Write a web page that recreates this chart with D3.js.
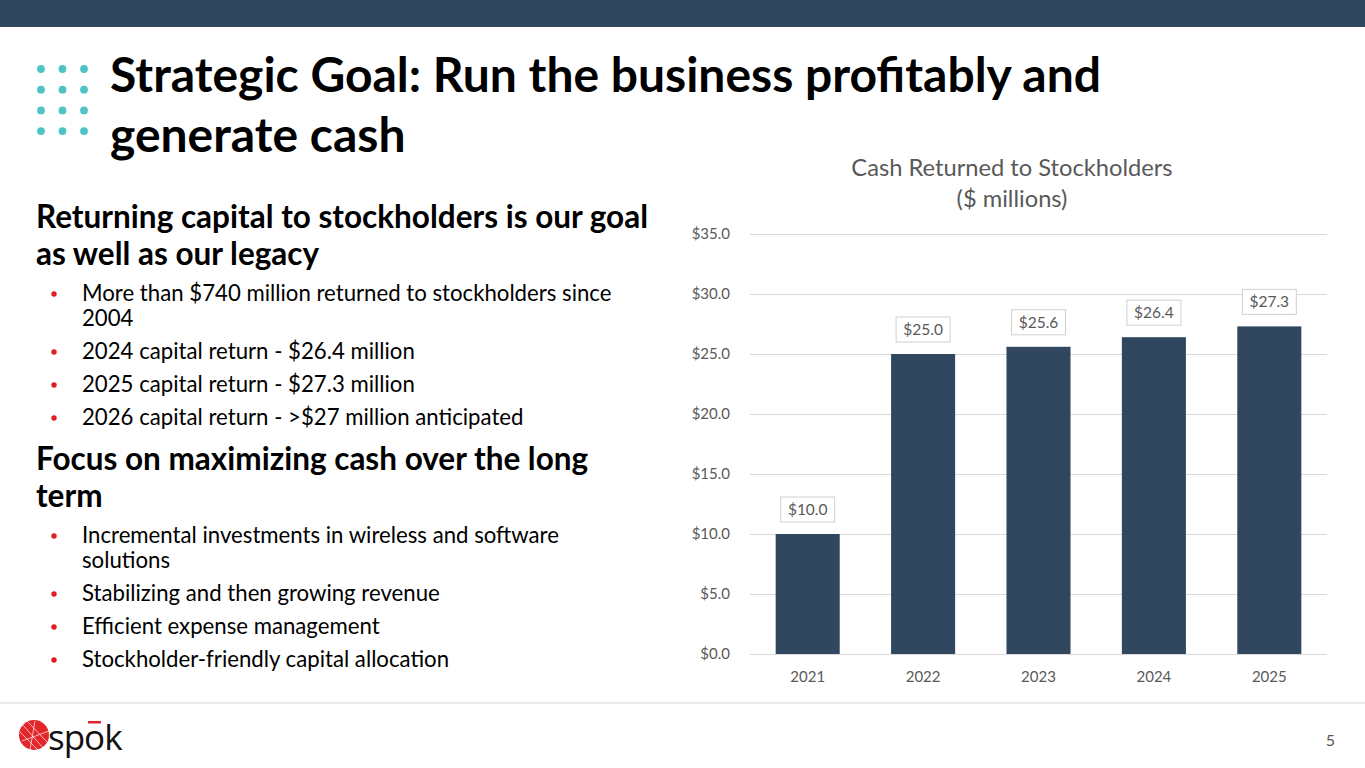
<!DOCTYPE html>
<html lang="en">
<head>
<meta charset="UTF-8">
<title>Cash Returned to Stockholders</title>
<script src="https://d3js.org/d3.v7.min.js"></script>
<style>
  body { margin: 0; background: #fff; }
  svg text { font-family: Lato, "Open Sans", sans-serif; }
</style>
</head>
<body>
<div id="slide"></div>
<script>
// chart data
const years = ["2021", "2022", "2023", "2024", "2025"];
const cashReturned = [10.0, 25.0, 25.6, 26.4, 27.3];
const yTicks = [0, 5, 10, 15, 20, 25, 30, 35];

// slide text
const titleLines = ["Strategic Goal: Run the business profitably and", "generate cash"];
const blocks = [
  { head: ["Returning capital to stockholders is our goal", "as well as our legacy"],
    bullets: [["More than $740 million returned to stockholders since", "2004"],
              ["2024 capital return - $26.4 million"],
              ["2025 capital return - $27.3 million"],
              ["2026 capital return - >$27 million anticipated"]] },
  { head: ["Focus on maximizing cash over the long", "term"],
    bullets: [["Incremental investments in wireless and software", "solutions"],
              ["Stabilizing and then growing revenue"],
              ["Efficient expense management"],
              ["Stockholder-friendly capital allocation"]] }
];

const W = 1365, H = 768;
const navy = "#31475f", grey = "#595959", teal = "#4fc3c6", red = "#e31b23";

const svg = d3.select("#slide").append("svg")
  .attr("width", W).attr("height", H);

// top band
svg.append("rect").attr("x", 0).attr("y", 0).attr("width", W).attr("height", 27).attr("fill", navy);

// dot grid
const dots = d3.cross(d3.range(4), d3.range(3));
svg.append("g").selectAll("circle").data(dots).join("circle")
  .attr("cx", d => 41 + d[1] * 21.5)
  .attr("cy", d => 69 + d[0] * 20.7)
  .attr("r", 3.9)
  .attr("fill", teal);

// title
svg.append("g").selectAll("text").data(titleLines).join("text")
  .attr("x", 110).attr("y", (d, i) => 92 + i * 60)
  .attr("font-size", 48).attr("font-weight", 700).attr("fill", "#000")
  .text(d => d);

// left column
let y = 228;
const left = svg.append("g");
blocks.forEach((b, bi) => {
  if (bi > 0) y += 12;
  b.head.forEach((line, i) => {
    left.append("text").attr("x", 36).attr("y", y)
      .attr("font-size", 31.5).attr("font-weight", 700).attr("fill", "#000").text(line);
    y += 37;
  });
  y -= 1;
  b.bullets.forEach(lines => {
    left.append("circle").attr("cx", 54).attr("cy", y - 7).attr("r", 2.7).attr("fill", red);
    lines.forEach((line, i) => {
      left.append("text").attr("x", 82).attr("y", y)
        .attr("font-size", 22.2).attr("fill", "#000").text(line);
      y += (i < lines.length - 1) ? 25 : 0;
    });
    y += 33;
  });
});

// chart
const plot = { left: 750, right: 1327, top: 234, bottom: 654 };
const x = d3.scaleBand().domain(years).range([plot.left, plot.right]).paddingInner(0.445).paddingOuter(0.2225);
const yScale = d3.scaleLinear().domain([0, 35]).range([plot.bottom, plot.top]);

const chart = svg.append("g");

chart.append("text").attr("x", 1012).attr("y", 176).attr("text-anchor", "middle")
  .attr("font-size", 23.7).attr("fill", grey).text("Cash Returned to Stockholders");
chart.append("text").attr("x", 1012).attr("y", 207).attr("text-anchor", "middle")
  .attr("font-size", 23.7).attr("fill", grey).text("($ millions)");

const yAxis = chart.append("g").attr("transform", `translate(${plot.left},0)`)
  .call(d3.axisLeft(yScale).tickValues(yTicks).tickFormat(d => "$" + d3.format(".1f")(d))
    .tickSize(-(plot.right - plot.left)).tickPadding(20));
yAxis.select(".domain").remove();
yAxis.selectAll(".tick line").attr("stroke", "#d9d9d9").attr("stroke-width", 1);
yAxis.selectAll(".tick text").attr("fill", grey).attr("font-size", 15)
  .style("font-family", "Lato, sans-serif");

const xAxis = chart.append("g").attr("transform", `translate(0,${plot.bottom})`)
  .call(d3.axisBottom(x).tickSize(0).tickPadding(17));
xAxis.select(".domain").remove();
xAxis.selectAll(".tick text").attr("fill", grey).attr("font-size", 15)
  .style("font-family", "Lato, sans-serif");

chart.append("g").selectAll("rect").data(cashReturned).join("rect")
  .attr("x", (d, i) => x(years[i]))
  .attr("y", d => yScale(d))
  .attr("width", x.bandwidth())
  .attr("height", d => yScale(0) - yScale(d))
  .attr("fill", navy);

const labels = chart.append("g").selectAll("g").data(cashReturned).join("g")
  .attr("transform", (d, i) => `translate(${x(years[i]) + x.bandwidth() / 2},${yScale(d) - 12})`);
labels.append("rect").attr("x", -27).attr("y", -25).attr("width", 54).attr("height", 25)
  .attr("fill", "#fff").attr("stroke", "#d0d0d0").attr("stroke-width", 1);
labels.append("text").attr("x", 0).attr("y", -7).attr("text-anchor", "middle")
  .attr("font-size", 15.5).attr("fill", grey).text(d => "$" + d3.format(".1f")(d));

// footer
svg.append("line").attr("x1", 0).attr("x2", W).attr("y1", 703).attr("y2", 703)
  .attr("stroke", "#ebebeb").attr("stroke-width", 2);
svg.append("text").attr("x", 1335).attr("y", 746).attr("text-anchor", "end")
  .attr("font-size", 16).attr("fill", grey).text("5");

// logo
const logo = svg.append("g");
logo.append("circle").attr("cx", 34).attr("cy", 735).attr("r", 15).attr("fill", "#e4262b");
const arcs = [[22, 724, 44, 749], [27, 721, 47, 742], [20, 732, 38, 750], [35, 721, 30, 750], [22, 741, 49, 731]];
logo.append("g").selectAll("line").data(arcs).join("line")
  .attr("x1", d => d[0]).attr("y1", d => d[1]).attr("x2", d => d[2]).attr("y2", d => d[3])
  .attr("stroke", "#fff").attr("stroke-width", 0.8).attr("opacity", 0.85);
logo.append("text").attr("x", 48).attr("y", 750).attr("font-size", 35)
  .attr("fill", "#111").style("font-family", "'Open Sans', sans-serif").attr("letter-spacing", -1).text("spok");
logo.append("rect").attr("x", 88).attr("y", 721).attr("width", 13).attr("height", 2.5).attr("fill", "#e4262b");
</script>
</body>
</html>
